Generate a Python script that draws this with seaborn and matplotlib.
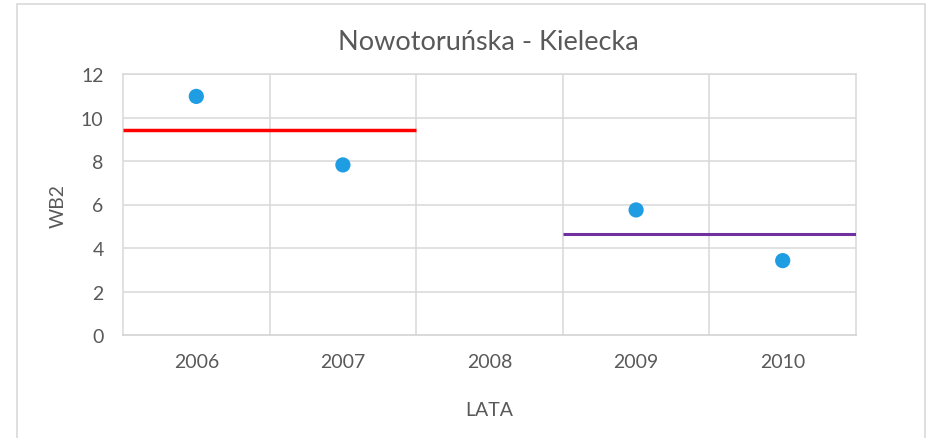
import matplotlib
matplotlib.use("Agg")
import matplotlib.pyplot as plt
import seaborn as sns
import pandas as pd
from matplotlib.patches import Rectangle

years = ["2006", "2007", "2008", "2009", "2010"]
point_years = ["2006", "2007", "2009", "2010"]
wb2_values = [10.97, 7.82, 5.75, 3.42]
mean_early = 9.44   # 2006-2007
mean_late = 4.66    # 2009-2010

sns.set_theme(style="white")
plt.rcParams['font.family'] = ['Lato', 'DejaVu Sans']

fig = plt.figure(figsize=(9.3, 4.39), dpi=100)
ax = fig.add_axes([123/930, 1-336/439, (856-123)/930, (336-75)/439])

df = pd.DataFrame({"year": point_years, "WB2": wb2_values})
pos = {y: i for i, y in enumerate(years)}
df["x"] = df["year"].map(pos)

sns.scatterplot(data=df, x="x", y="WB2", ax=ax, color="#1f9de3", s=120,
                edgecolor="none", zorder=4, legend=False)

ax.hlines(mean_early, -0.5, 1.5, color="#ff0000", lw=2.5, zorder=3)
ax.hlines(mean_late, 2.5, 4.5, color="#7030a0", lw=2.2, zorder=3)

ax.set_xlim(-0.5, 4.5)
ax.set_ylim(0, 12)
ax.set_yticks(range(0, 13, 2))
ax.set_xticks(range(len(years)))
ax.set_xticklabels(years)

grid_c = "#d9d9d9"
for yv in range(2, 13, 2):
    ax.axhline(yv, color=grid_c, lw=1.1, zorder=1)
for xv in [0.5, 1.5, 2.5, 3.5]:
    ax.axvline(xv, color=grid_c, lw=1.1, zorder=1)
for s in ax.spines.values():
    s.set_color(grid_c)
    s.set_linewidth(1.1)
ax.spines["bottom"].set_color("#d0d0d0")

txt_c = "#595959"
ax.tick_params(axis="both", length=0, labelsize=14, colors=txt_c)
ax.tick_params(axis="x", pad=13)
ax.tick_params(axis="y", pad=14)
ax.set_xlabel("LATA", fontsize=14, color=txt_c, labelpad=22)
ax.set_ylabel("WB2", fontsize=14, color=txt_c, labelpad=10)
fig.text((123+856)/2/930 - 0.001, 1-43/439, "Nowotoruńska - Kielecka", ha="center", va="center",
         fontsize=19.5, color=txt_c)

fig.patches.append(Rectangle((17/930, -0.01), (925-17)/930, 1-5/439+0.01,
                             transform=fig.transFigure, fill=False,
                             edgecolor="#d9d9d9", lw=1.2))

fig.savefig("out.png", dpi=100)
